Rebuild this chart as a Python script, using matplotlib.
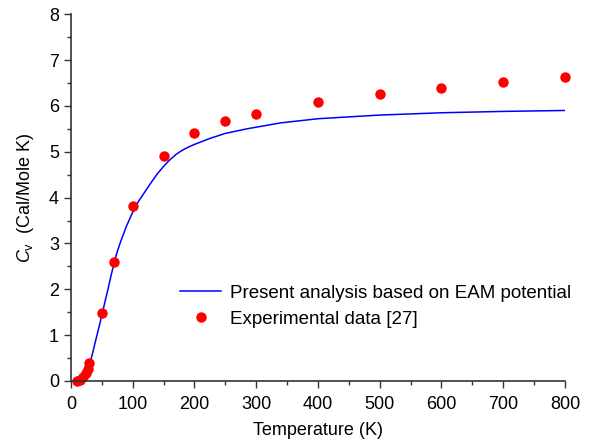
import matplotlib
matplotlib.use("Agg")
import matplotlib.pyplot as plt
from matplotlib.ticker import MultipleLocator

plt.rcParams["font.family"] = ["Liberation Sans", "DejaVu Sans"]
plt.rcParams["mathtext.fontset"] = "custom"
plt.rcParams["mathtext.it"] = "Liberation Sans:italic"
plt.rcParams["mathtext.rm"] = "Liberation Sans"

# EAM calculation (blue curve)
calc_temp = [10, 15, 20, 25, 30, 35, 40, 45, 50, 55, 60, 65, 70, 75, 80,
             90, 100, 110, 120, 130, 140, 150, 160, 170, 180, 190, 200,
             225, 250, 285, 340, 400, 500, 600, 700, 800]
calc_cv = [0.0, 0.02, 0.07, 0.18, 0.35, 0.6, 0.88, 1.15, 1.43, 1.72, 2.0,
           2.3, 2.58, 2.82, 3.02, 3.38, 3.68, 3.93, 4.13, 4.33, 4.52, 4.68,
           4.82, 4.94, 5.03, 5.1, 5.16, 5.29, 5.4, 5.5, 5.63, 5.72, 5.8,
           5.85, 5.88, 5.9]

# experimental points (red dots)
exp_temp = [10, 15, 20, 25, 27, 30, 50, 70, 100, 150, 200, 250, 300,
            400, 500, 600, 700, 800]
exp_cv = [0.0, 0.03, 0.09, 0.18, 0.25, 0.40, 1.48, 2.6, 3.82, 4.9, 5.4,
          5.67, 5.83, 6.08, 6.25, 6.38, 6.52, 6.62]

fig = plt.figure(figsize=(5.91, 4.44), dpi=100)
ax = fig.add_axes([0.120, 0.142, 0.836, 0.826])

ax.plot(calc_temp, calc_cv, color="#0000ff", linewidth=1.1,
        label="Present analysis based on EAM potential")
ax.plot(exp_temp, exp_cv, "o", color="#ff0000", markersize=7.5,
        markeredgewidth=0, clip_on=False, label="Experimental data [27]")

ax.set_xlim(0, 800)
ax.set_ylim(0, 8)
ax.xaxis.set_major_locator(MultipleLocator(100))
ax.xaxis.set_minor_locator(MultipleLocator(50))
ax.yaxis.set_major_locator(MultipleLocator(1))
ax.yaxis.set_minor_locator(MultipleLocator(0.5))

for side in ["top", "right"]:
    ax.spines[side].set_visible(False)
for side in ["left", "bottom"]:
    ax.spines[side].set_linewidth(1.2)
    ax.spines[side].set_color("#333333")

ax.tick_params(which="major", direction="out", length=5, width=1.0,
               labelsize=13, color="#333333")
ax.tick_params(which="minor", direction="out", length=3, width=1.0,
               color="#333333")
ax.tick_params(axis="x", which="major", pad=6)

ax.set_xlabel("Temperature (K)", fontsize=13, labelpad=6)
ax.set_ylabel(r"$C_{\mathrm{v}}$  (Cal/Mole K)", fontsize=13, labelpad=9)

ax.legend(loc="upper left", bbox_to_anchor=(0.221, 0.262), frameon=False,
          fontsize=13.5, borderpad=0, borderaxespad=0, handlelength=2.2,
          handletextpad=0.45, labelspacing=0.45)

fig.savefig("out.png", dpi=100)
